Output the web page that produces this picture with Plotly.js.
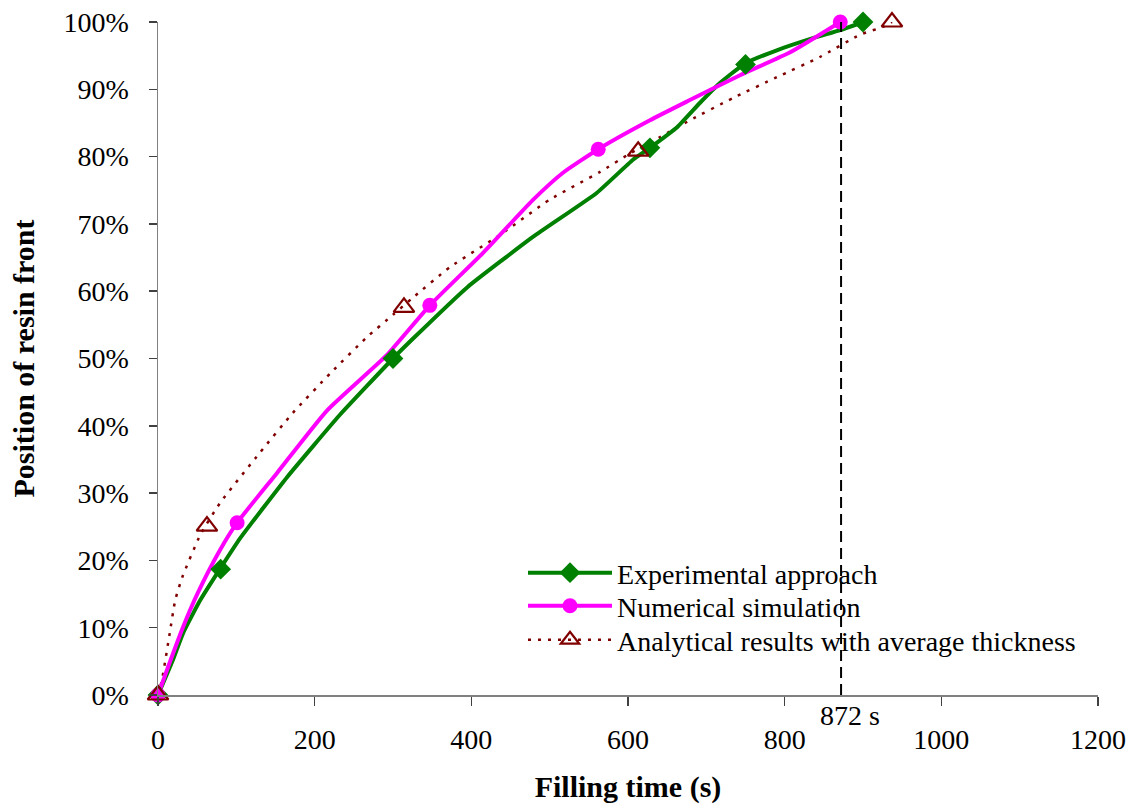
<!DOCTYPE html>
<html>
<head>
<meta charset="utf-8">
<script src="https://cdn.plot.ly/plotly-3.0.1.min.js"></script>
<style>html,body{margin:0;padding:0;background:#fff;}#chart{width:1138px;height:810px;}</style>
</head>
<body>
<div id="chart"></div>
<script>
// Series names
const seriesNames = ["Experimental approach", "Numerical simulation", "Analytical results with average thickness"];

// Experimental approach: curve and marked points (time s, position %)
const expLineX = [0, 19, 32, 54, 79, 105, 165, 232, 300, 326, 395, 479, 560, 606, 628, 663, 692, 717, 749, 790, 836, 871, 900];
const expLineY = [0, 5.2, 9.2, 14.1, 18.7, 23.3, 32.4, 41.6, 50.0, 53.0, 60.6, 68.1, 74.6, 79.5, 81.3, 84.4, 88.0, 90.9, 93.8, 95.8, 97.6, 98.8, 100];
const expMarkX = [0, 80, 300, 628, 750, 900];
const expMarkY = [0, 18.7, 50.0, 81.3, 93.7, 100];

// Numerical simulation
const numLineX = [0, 13, 32, 51, 79, 101, 152, 216, 292, 347, 415, 479, 517, 562, 628, 679, 743, 807, 871];
const numLineY = [0, 4.2, 10.1, 15.2, 21.5, 25.6, 33.0, 42.3, 50.5, 57.9, 65.7, 73.6, 77.6, 81.1, 85.4, 88.4, 92.1, 95.5, 100];
const numMarkX = [0, 101, 347, 562, 871];
const numMarkY = [0, 25.6, 57.9, 81.1, 100];

// Analytical results with average thickness
const anaLineX = [0, 5, 15, 22, 31, 54, 79, 130, 172, 220, 267, 300, 326, 373, 437, 500, 564, 603, 641, 679, 734, 790, 845, 896, 926, 937];
const anaLineY = [0, 2.2, 9.2, 14.1, 17.5, 23.8, 28.5, 36.0, 41.9, 47.8, 53.2, 56.5, 59.1, 63.6, 68.4, 73.6, 77.7, 80.5, 82.9, 85.4, 88.7, 91.8, 94.8, 98.1, 99.3, 100];
const anaMarkX = [0, 62.5, 314, 613, 937];
const anaMarkY = [0, 25.1, 57.6, 80.8, 100];

// Axis ticks
const xTicks = [0, 200, 400, 600, 800, 1000, 1200];
const yTicks = [0, 10, 20, 30, 40, 50, 60, 70, 80, 90, 100];
const fillTime = 872;

const green = "#008000", magenta = "#ff00ff", darkred = "#800000";
const FONT = "Liberation Serif, Times New Roman, serif";
const dotted = "3px,7px";

const expLine = {color: green, width: 4, shape: "spline", smoothing: 0.4};
const numLine = {color: magenta, width: 4, shape: "spline", smoothing: 0.5};
const anaLine = {color: darkred, width: 2.5, dash: dotted, shape: "spline", smoothing: 0.5};
const expMarker = {symbol: "diamond", size: 16, color: green};
const numMarker = {symbol: "circle", size: 15, color: magenta};
const anaMarker = {symbol: "triangle-up-open", size: 18, color: darkred, line: {width: 2.2, color: darkred}};

const traces = [
  {x: anaLineX, y: anaLineY, mode: "lines", line: anaLine, showlegend: false, hoverinfo: "skip"},
  {x: expLineX, y: expLineY, mode: "lines", line: expLine, showlegend: false, hoverinfo: "skip"},
  {x: numLineX, y: numLineY, mode: "lines", line: numLine, showlegend: false, hoverinfo: "skip"},
  {x: expMarkX, y: expMarkY, mode: "markers", marker: expMarker, showlegend: false, cliponaxis: false},
  {x: numMarkX, y: numMarkY, mode: "markers", marker: numMarker, showlegend: false, cliponaxis: false},
  {x: anaMarkX, y: anaMarkY, mode: "markers", marker: anaMarker, showlegend: false, cliponaxis: false},
  // legend entries
  {x: [null], y: [null], name: seriesNames[0], legend: "legend", mode: "lines+markers", line: {color: green, width: 4}, marker: expMarker},
  {x: [null], y: [null], name: seriesNames[1], legend: "legend2", mode: "lines+markers", line: {color: magenta, width: 4}, marker: numMarker},
  {x: [null], y: [null], name: seriesNames[2], legend: "legend3", mode: "lines+markers", line: {color: darkred, width: 2.5, dash: dotted}, marker: anaMarker}
];

function leg(y) {
  return {x: 0.3883, y: y, xanchor: "left", yanchor: "middle", bgcolor: "rgba(0,0,0,0)",
          font: {family: FONT, size: 28}, itemwidth: 84};
}

const layout = {
  width: 1138, height: 810,
  margin: {l: 158, r: 40, t: 22, b: 115},
  paper_bgcolor: "#fff", plot_bgcolor: "#fff",
  font: {family: FONT, size: 28, color: "#000"},
  showlegend: true,
  legend: leg(0.1813),
  legend2: leg(0.1322),
  legend3: leg(0.0817),
  xaxis: {
    range: [0, 1200], tickvals: xTicks, ticktext: xTicks.map(String),
    showgrid: false, zeroline: false, showline: true, linecolor: "#808080", linewidth: 1.5,
    ticks: "outside", ticklen: 9, tickcolor: "#404040", tickwidth: 1.5,
    tickfont: {family: FONT, size: 28}, ticklabelstandoff: 10,
    title: {text: "<b>Filling time (s)</b>", font: {family: FONT, size: 30}, standoff: 22}
  },
  yaxis: {
    range: [0, 100], tickvals: yTicks, ticktext: yTicks.map(v => v + "%"),
    showgrid: false, zeroline: false, showline: true, linecolor: "#808080", linewidth: 1.5,
    ticks: "outside", ticklen: 8, tickcolor: "#404040", tickwidth: 1.5,
    tickfont: {family: FONT, size: 28}, ticklabelstandoff: 14,
    title: {text: "<b>Position of resin front</b>", font: {family: FONT, size: 30}, standoff: 20}
  },
  shapes: [
    {type: "line", xref: "x", yref: "y", x0: fillTime, x1: fillTime, y0: 0, y1: 100, line: {color: "#000", width: 2, dash: "11px,6px"}}
  ],
  annotations: [
    {xref: "x", yref: "paper", x: fillTime + 11, y: -0.031, xanchor: "center", yanchor: "middle", text: fillTime + " s", showarrow: false, font: {family: FONT, size: 28}}
  ]
};

Plotly.newPlot("chart", traces, layout, {displayModeBar: false, staticPlot: true});
</script>
</body>
</html>
